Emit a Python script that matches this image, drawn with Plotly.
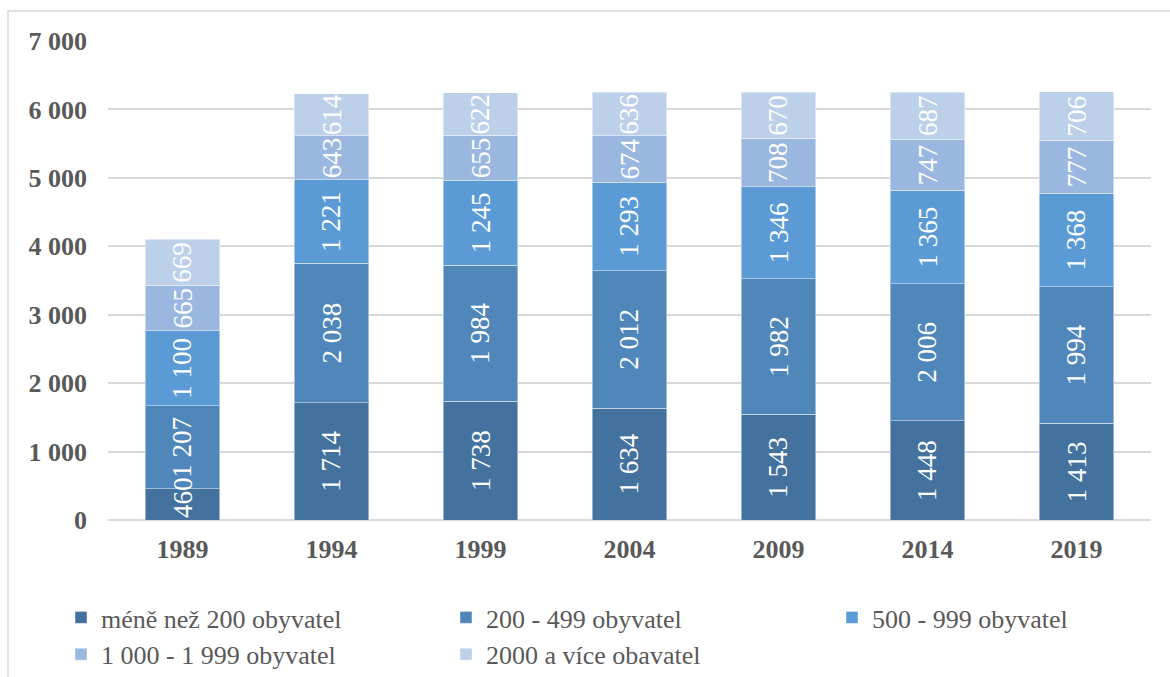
import plotly.graph_objects as go

years = ["1989", "1994", "1999", "2004", "2009", "2014", "2019"]
series_names = ["méně než 200 obyvatel", "200 - 499 obyvatel", "500 - 999 obyvatel",
                "1 000 - 1 999 obyvatel", "2000 a více obavatel"]
s1 = [460, 1714, 1738, 1634, 1543, 1448, 1413]
s2 = [1207, 2038, 1984, 2012, 1982, 2006, 1994]
s3 = [1100, 1221, 1245, 1293, 1346, 1365, 1368]
s4 = [665, 643, 655, 674, 708, 747, 777]
s5 = [669, 614, 622, 636, 670, 687, 706]
colors = ["#43729E", "#4F87BB", "#5B9BD5", "#9AB8DF", "#BDD0EA"]
legend_ids = ["legend", "legend2", "legend3", "legend", "legend2"]
y_ticks = [0, 1000, 2000, 3000, 4000, 5000, 6000, 7000]

SERIF = "Liberation Serif"


def fmt(v):
    return f"{v:,}".replace(",", " ")


all_series = [s1, s2, s3, s4, s5]

fig = go.Figure()
for name, vals, col, lg in zip(series_names, all_series, colors, legend_ids):
    fig.add_trace(go.Bar(
        x=years, y=vals, name=name, legend=lg,
        marker=dict(color=col, line=dict(color="rgba(255,255,255,0.45)", width=1)),
        hoverinfo="skip",
    ))

# value labels, centred on each stacked segment (drawn on top of all bars);
# on a category axis, annotation x is the category's serial index.
# A short bottom segment keeps its label inside the plot (bottom-anchored).
annotations = []
base = [0] * len(years)
for vals in all_series:
    for i, v in enumerate(vals):
        small_bottom = base[i] == 0 and v < 700
        annotations.append(dict(
            x=i, y=0 if small_bottom else base[i] + v / 2, xref="x", yref="y",
            yanchor="bottom" if small_bottom else "middle",
            text=fmt(v), showarrow=False, textangle=-90,
            font=dict(family=SERIF, size=27, color="white"),
        ))
        base[i] += v

L, R, T, B = 108, 19, 41, 157
W, H = 1170, 677
pw, ph = W - L - R, H - T - B

leg_font = dict(size=26, color="#595959", family=SERIF)
leg_common = dict(orientation="v", xref="container", yref="container",
                  xanchor="left", yanchor="top", traceorder="normal",
                  tracegroupgap=0, bgcolor="rgba(0,0,0,0)", font=leg_font)
LEG_TOP = 1 - 594 / H

fig.update_layout(
    barmode="stack", bargap=0.497,
    width=W, height=H,
    margin=dict(l=L, r=R, t=T, b=B, autoexpand=False),
    paper_bgcolor="white", plot_bgcolor="white",
    font=dict(family=SERIF, color="#595959"),
    xaxis=dict(type="category", range=[-0.5, len(years) - 0.5],
               tickfont=dict(size=26, color="#595959", family=SERIF),
               showgrid=False, showline=False, ticks="", automargin=False,
               ticklabelstandoff=11,
               tickprefix="<b>", ticksuffix="</b>"),
    yaxis=dict(range=[0, 7000], tickvals=y_ticks, automargin=False,
               ticktext=["<b>" + fmt(v) + "</b>" for v in y_ticks],
               tickfont=dict(size=26, color="#595959", family=SERIF),
               ticklabelstandoff=20,
               showgrid=True, gridcolor="#D9D9D9", gridwidth=2, zeroline=True,
               zerolinecolor="#D9D9D9", zerolinewidth=2, ticks="", ticklen=0),
    legend=dict(x=61 / W, y=LEG_TOP, **leg_common),
    legend2=dict(x=446 / W, y=LEG_TOP, **leg_common),
    legend3=dict(x=832 / W, y=LEG_TOP, **leg_common),
    showlegend=True,
    annotations=annotations,
    shapes=[dict(type="rect", xref="paper", yref="paper",
                 x0=(8 - L) / pw, x1=(1180 - L) / pw,
                 y0=(520 - 690) / ph, y1=1 + (T - 11) / ph,
                 line=dict(color="#D9D9D9", width=1.5), fillcolor="rgba(0,0,0,0)",
                 layer="below")],
)

fig.write_html("out.html", config={"displayModeBar": False},
               post_script="document.body.style.margin='0px';")
